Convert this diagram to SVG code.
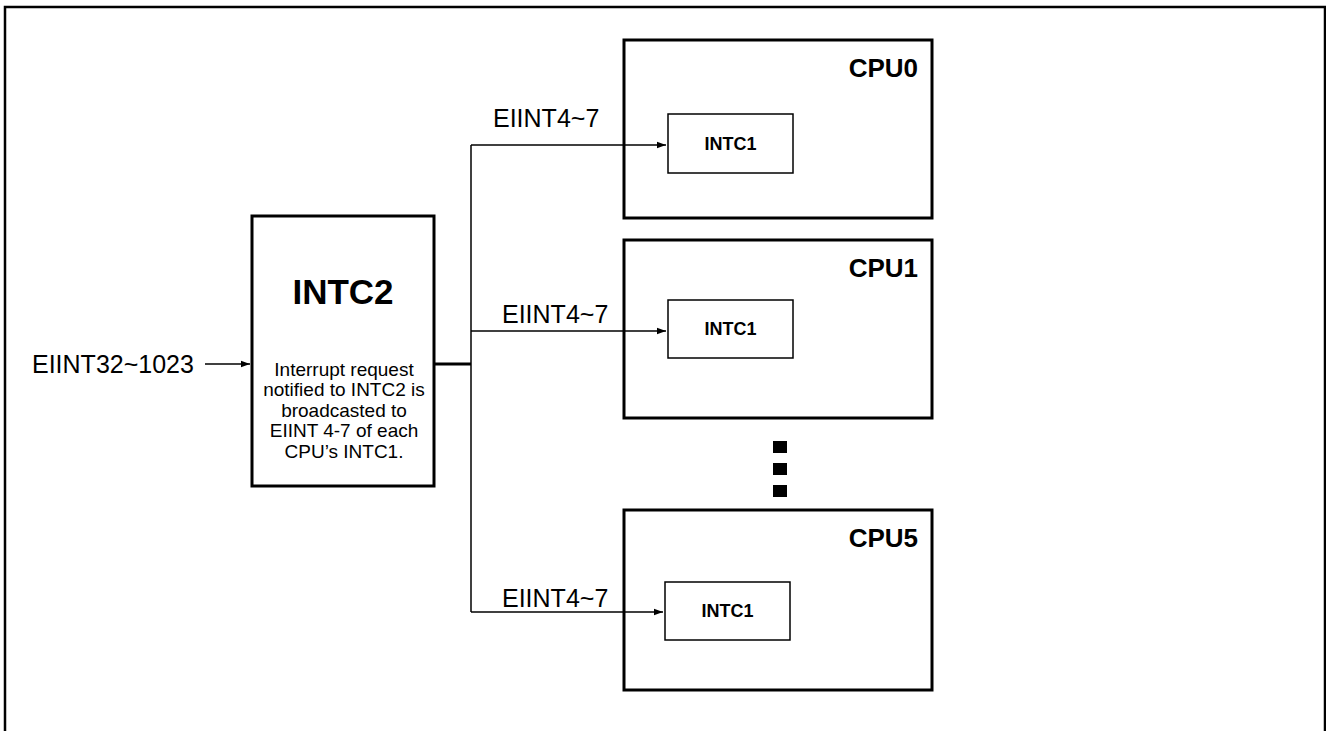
<svg xmlns="http://www.w3.org/2000/svg" width="1326" height="731" viewBox="0 0 1326 731">
<defs>
<marker id="ah" markerWidth="10" markerHeight="8" refX="9" refY="4" orient="auto" markerUnits="userSpaceOnUse">
<path d="M0,0.8 L9,4 L0,7.2 Z" fill="#000"/>
</marker>
<style>
.frame{fill:none;stroke:#000;stroke-width:2.5}
.cpu{fill:#fff;stroke:#000;stroke-width:3}
.intc1{fill:#fff;stroke:#000;stroke-width:1.5}
.cpulbl{font-family:"Liberation Sans",Arial,sans-serif;font-weight:bold;font-size:26px;text-anchor:end}
.intc1lbl{font-family:"Liberation Sans",Arial,sans-serif;font-weight:bold;font-size:18px;text-anchor:middle}
.lbl{font-family:"Liberation Sans",Arial,sans-serif;font-size:25px}
.body{font-family:"Liberation Sans",Arial,sans-serif;font-size:19px;text-anchor:middle}
.wire{fill:none;stroke:#000;stroke-width:1.5}
</style>
</defs>
<rect width="1326" height="731" fill="#fff"/>
<path class="frame" d="M5,731 V7 H1325 V731"/>

<g id="intc2">
<rect x="252" y="216" width="182" height="270" fill="#fff" stroke="#000" stroke-width="3"/>
<text x="343" y="304" font-family="'Liberation Sans',Arial,sans-serif" font-weight="bold" font-size="35" text-anchor="middle">INTC2</text>
<text class="body" x="344" y="376">Interrupt request</text>
<text class="body" x="344" y="396">notified to INTC2 is</text>
<text class="body" x="344" y="417">broadcasted to</text>
<text class="body" x="344" y="437">EIINT 4-7 of each</text>
<text class="body" x="344" y="458">CPU’s INTC1.</text>
</g>

<g id="cpu0">
<rect class="cpu" x="624" y="40" width="308" height="178"/>
<text class="cpulbl" x="918" y="77">CPU0</text>
<g id="cpu0-intc1">
<rect class="intc1" x="668" y="114" width="125" height="59"/>
<text class="intc1lbl" x="730.5" y="150">INTC1</text>
</g>
</g>

<g id="cpu1">
<rect class="cpu" x="624" y="240" width="308" height="178"/>
<text class="cpulbl" x="918" y="277">CPU1</text>
<g id="cpu1-intc1">
<rect class="intc1" x="668" y="300" width="125" height="58"/>
<text class="intc1lbl" x="730.5" y="335">INTC1</text>
</g>
</g>

<g id="dots">
<rect x="773" y="441" width="14" height="12" fill="#000"/>
<rect x="773" y="463" width="14" height="12" fill="#000"/>
<rect x="773" y="485" width="14" height="12" fill="#000"/>
</g>

<g id="cpu5">
<rect class="cpu" x="624" y="510" width="308" height="180"/>
<text class="cpulbl" x="918" y="547">CPU5</text>
<g id="cpu5-intc1">
<rect class="intc1" x="665" y="582" width="125" height="58"/>
<text class="intc1lbl" x="727.5" y="617">INTC1</text>
</g>
</g>

<g id="connectors">
<line class="wire" x1="205" y1="364" x2="250" y2="364" marker-end="url(#ah)"/>
<line x1="434" y1="364" x2="471" y2="364" stroke="#000" stroke-width="3"/>
<path class="wire" d="M471,145 V612"/>
<line class="wire" x1="471" y1="145" x2="666" y2="145" marker-end="url(#ah)"/>
<line class="wire" x1="471" y1="331" x2="666" y2="331" marker-end="url(#ah)"/>
<line class="wire" x1="471" y1="612" x2="663" y2="612" marker-end="url(#ah)"/>
</g>

<g id="labels">
<text class="lbl" x="32" y="373">EIINT32~1023</text>
<text class="lbl" x="493" y="127">EIINT4~7</text>
<text class="lbl" x="502" y="323">EIINT4~7</text>
<text class="lbl" x="502" y="607">EIINT4~7</text>
</g>
</svg>
